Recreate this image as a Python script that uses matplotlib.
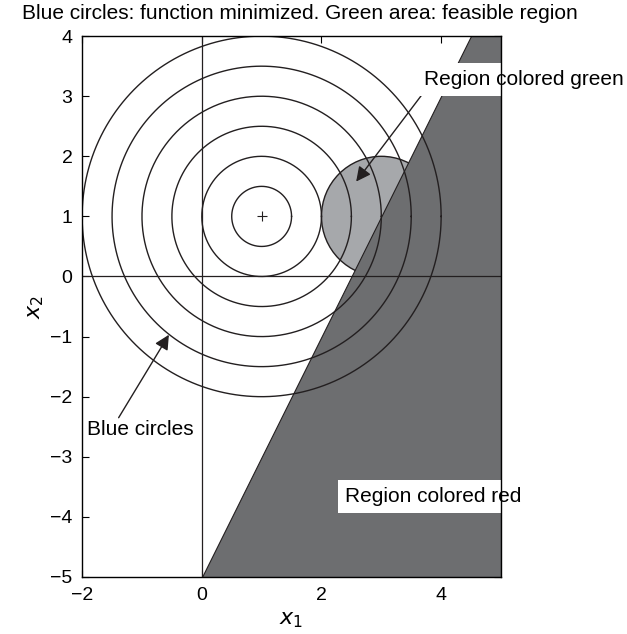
"""
Minimización con restricciones: curvas de nivel y región factible
"""

import numpy as np
import matplotlib.pyplot as plt
from matplotlib.patches import Circle, Polygon

plt.rcParams['font.family'] = ['Liberation Sans', 'DejaVu Sans']

# datos
center = (1.0, 1.0)                       # mínimo de la función
radii = [0.5, 1.0, 1.5, 2.0, 2.5, 3.0]    # curvas de nivel
feas_center = (3.0, 1.0)                  # disco de la restricción
feas_radius = 1.0
line_slope, line_icpt = 2.0, -5.0         # x2 = 2*x1 - 5
xlim = (-2, 5)
ylim = (-5, 4)
xticks = [-2, 0, 2, 4]
yticks = [-5, -4, -3, -2, -1, 0, 1, 2, 3, 4]

dark = '#6d6e70'
light = '#a6a8ab'
ink = '#231f20'

fig = plt.figure(figsize=(6.27, 6.34), dpi=100)
ax = fig.add_axes([0.131, 0.090, 0.668, 0.853])

# disco "verde"
ax.add_patch(Circle(feas_center, feas_radius, facecolor=light,
                    edgecolor=ink, lw=1.0, zorder=1))

# región "roja": debajo de la recta
x_top = (ylim[1] - line_icpt) / line_slope
x_bot = (ylim[0] - line_icpt) / line_slope
poly = [(x_bot, ylim[0]), (xlim[1], ylim[0]), (xlim[1], ylim[1]), (x_top, ylim[1])]
ax.add_patch(Polygon(poly, closed=True, facecolor=dark, edgecolor=ink,
                     lw=0.8, zorder=2))

# curvas de nivel
th = np.linspace(0, 2*np.pi, 400)
for r in radii:
    ax.plot(center[0] + r*np.cos(th), center[1] + r*np.sin(th),
            color=ink, lw=1.0, zorder=3)
ax.plot(*center, marker='+', color=ink, ms=7, mew=0.8, zorder=4)

# ejes x=0, y=0
ax.plot([0, 0], ylim, color=ink, lw=0.9, zorder=3)
ax.plot(xlim, [0, 0], color=ink, lw=0.9, zorder=3)

arrow = dict(arrowstyle='-|>', color=ink, lw=1.0, mutation_scale=22,
             shrinkA=0, shrinkB=0)
ax.annotate('', xy=(2.58, 1.58), xytext=(3.69, 3.04),
            arrowprops=arrow, zorder=5)
ax.text(5.39, 3.28, 'Region colored green', fontsize=15, ha='center',
        va='center', zorder=6, clip_on=False,
        bbox=dict(facecolor='white', edgecolor='none', pad=5))
ax.annotate('', xy=(-0.55, -0.97), xytext=(-1.39, -2.35),
            arrowprops=arrow, zorder=5)
ax.text(-1.03, -2.55, 'Blue circles', fontsize=15, ha='center',
        va='center', zorder=6,
        bbox=dict(facecolor='white', edgecolor='none', pad=1))
ax.text(3.87, -3.66, 'Region colored red', fontsize=15, ha='center',
        va='center', zorder=6, clip_on=False,
        bbox=dict(facecolor='white', edgecolor='none', pad=5))

ax.set_xlim(*xlim)
ax.set_ylim(*ylim)
ax.set_xticks(xticks)
ax.set_yticks(yticks)
ax.set_xticklabels([str(v).replace('-', '\u2212') for v in xticks])
ax.set_yticklabels([str(v).replace('-', '\u2212') for v in yticks])
ax.tick_params(direction='in', top=True, right=True, labelsize=14, length=5,
               width=0.8)
ax.tick_params(axis='x', pad=7)
ax.tick_params(axis='y', pad=7)
for s in ax.spines.values():
    s.set_linewidth(1.0)
    s.set_zorder(7)
ax.set_xlabel('$x_1$', fontsize=16, labelpad=4)
ax.set_ylabel('$x_2$', fontsize=16, labelpad=3)

fig.text(0.035, 0.978, 'Blue circles: function minimized. Green area: feasible region',
         fontsize=15, ha='left', va='center')

plt.savefig('out.png', dpi=100)
